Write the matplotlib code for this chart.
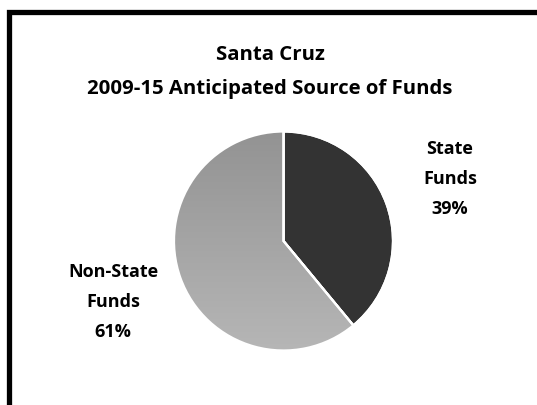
import numpy as np
import matplotlib
matplotlib.use("Agg")
import matplotlib.pyplot as plt
from matplotlib.patches import Rectangle

# Funding split for Santa Cruz, 2009-15
labels = ["State\nFunds", "Non-State\nFunds"]
shares = [39, 61]
colors = ["#333333", "#a5a5a5"]
title_lines = ["Santa Cruz", "2009-15 Anticipated Source of Funds"]

plt.rcParams["font.family"] = ["Open Sans", "DejaVu Sans"]

fig = plt.figure(figsize=(5.37, 4.06), dpi=100)
W, H = 537, 406

# thick outer frame, running off the right and bottom edges
fig.patches.append(Rectangle((8.5 / W, -0.05), 1.1, 1 - 12.5 / H + 0.05,
                             transform=fig.transFigure, fill=False,
                             edgecolor="black", linewidth=3.8))

fig.text(0.503, 1 - 55 / H, title_lines[0], ha="center", va="center",
         fontsize=14.7, fontweight="bold")
fig.text(0.503, 1 - 89 / H, title_lines[1], ha="center", va="center",
         fontsize=14.7, fontweight="bold")

# pie axes: centre (283.5, 242), radius ~109.5 px
r_px = 109.5
cx, cy = 283.5, 242
ax = fig.add_axes([(cx - r_px) / W, 1 - (cy + r_px) / H,
                   2 * r_px / W, 2 * r_px / H])
wedges, _ = ax.pie(shares, colors=colors, startangle=90, counterclock=False,
                   radius=1.0, wedgeprops=dict(edgecolor="white", linewidth=1.6))
ax.set_xlim(-1, 1)
ax.set_ylim(-1, 1)
ax.set_aspect("equal")
ax.axis("off")

# vertical shading on the non-state slice
grad = np.linspace(0, 1, 256).reshape(-1, 1)
img = ax.imshow(grad, extent=[-1, 1, -1, 1], origin="upper",
                cmap=matplotlib.colors.LinearSegmentedColormap.from_list(
                    "g", ["#939393", "#b6b6b6"]),
                zorder=wedges[1].get_zorder() + 0.1, aspect="auto")
img.set_clip_path(wedges[1])
# redraw the white divider over the shading
ax.pie(shares, colors=["none", "none"], startangle=90, counterclock=False,
       radius=1.0, wedgeprops=dict(edgecolor="white", linewidth=1.6,
                                   fill=False, zorder=5))
ax.set_xlim(-1, 1)
ax.set_ylim(-1, 1)

# slice labels with percentages
lab_pos = [(450, 179), (113, 302)]
for lab, val, (x, y) in zip(labels, shares, lab_pos):
    fig.text(x / W, 1 - y / H, f"{lab}\n{val}%", ha="center", va="center",
             fontsize=13, fontweight="bold", linespacing=1.85)

fig.savefig("out.png", dpi=100)
